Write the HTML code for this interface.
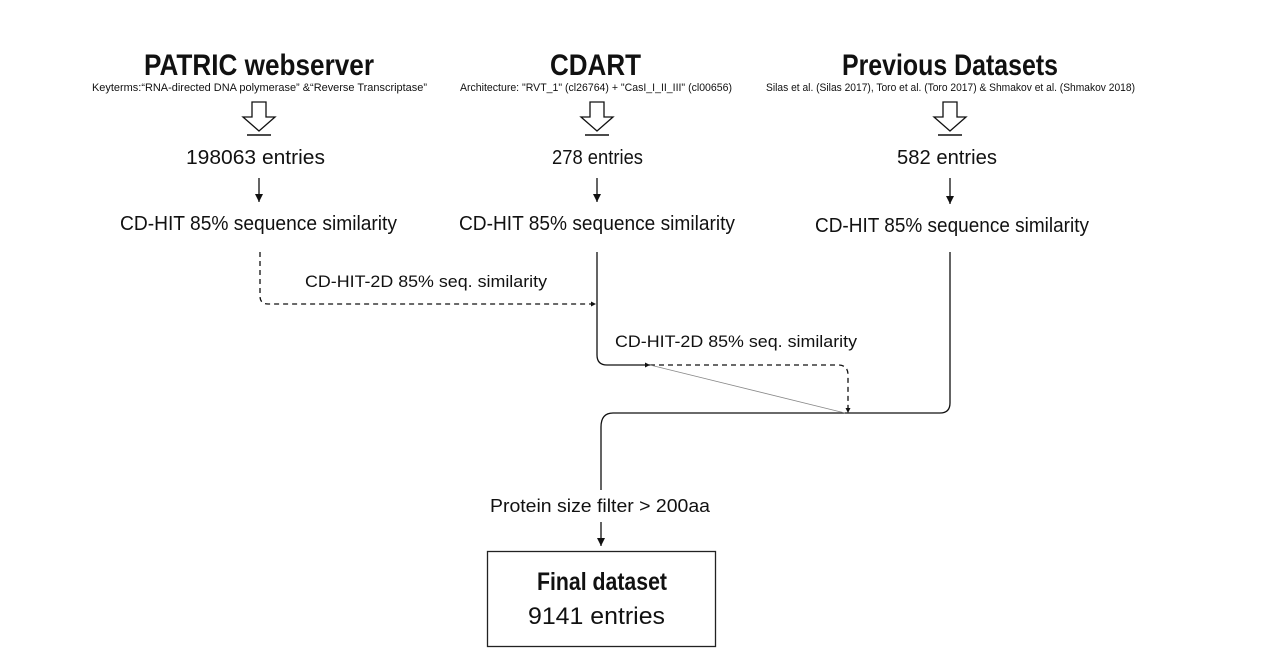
<!DOCTYPE html>
<html><head><meta charset="utf-8"><style>
html,body{margin:0;padding:0;background:#fff;width:1264px;height:671px;overflow:hidden}
svg{display:block}
text{font-family:"Liberation Sans",sans-serif;fill:#111}
.t{font-family:"Liberation Sans Narrow","Liberation Sans",sans-serif;font-weight:bold;font-size:30px}
.s{font-size:11px}
.m{font-size:20px}
</style></head><body>
<svg width="1264" height="671" viewBox="0 0 1264 671">
<defs><marker id="a" markerWidth="10" markerHeight="10" refX="8" refY="4" orient="auto" markerUnits="userSpaceOnUse"><path d="M0,0 L8,4 L0,8 Z" fill="#111"/></marker>
<marker id="b" markerWidth="5" markerHeight="5" refX="5" refY="2.5" orient="auto" markerUnits="userSpaceOnUse"><path d="M0,0 L5,2.5 L0,5Z" fill="#111"/></marker></defs>

<text class="t" x="144" y="75" textLength="230" lengthAdjust="spacingAndGlyphs">PATRIC webserver</text>
<text class="s" x="92" y="91" textLength="335" lengthAdjust="spacingAndGlyphs">Keyterms:“RNA-directed DNA polymerase” &amp;“Reverse Transcriptase”</text>
<text class="t" x="550" y="75" textLength="91" lengthAdjust="spacingAndGlyphs">CDART</text>
<text class="s" x="460" y="91" textLength="272" lengthAdjust="spacingAndGlyphs">Architecture: "RVT_1" (cl26764) + "CasI_I_II_III" (cl00656)</text>
<text class="t" x="842" y="75" textLength="216" lengthAdjust="spacingAndGlyphs">Previous Datasets</text>
<text class="s" x="766" y="91" textLength="369" lengthAdjust="spacingAndGlyphs">Silas et al. (Silas 2017), Toro et al. (Toro 2017) &amp; Shmakov et al. (Shmakov 2018)</text>

<g fill="none" stroke="#111" stroke-width="1.3">
<path d="M252,102 L266,102 L266,117 L275,117 L259,131 L243,117 L252,117 Z"/>
<path d="M590,102 L604,102 L604,117 L613,117 L597,131 L581,117 L590,117 Z"/>
<path d="M943,102 L957,102 L957,117 L966,117 L950,131 L934,117 L943,117 Z"/>
</g>
<g stroke="#111" stroke-width="1.5"><line x1="247" y1="135" x2="271" y2="135"/><line x1="585" y1="135" x2="609" y2="135"/><line x1="938" y1="135" x2="962" y2="135"/></g>

<text class="m" x="186" y="164" textLength="139" lengthAdjust="spacingAndGlyphs">198063 entries</text>
<text class="m" x="552" y="164" textLength="91" lengthAdjust="spacingAndGlyphs">278 entries</text>
<text class="m" x="897" y="164" textLength="100" lengthAdjust="spacingAndGlyphs">582 entries</text>

<g stroke="#111" stroke-width="1.3">
<line x1="259" y1="178" x2="259" y2="202" marker-end="url(#a)"/>
<line x1="597" y1="178" x2="597" y2="202" marker-end="url(#a)"/>
<line x1="950" y1="178" x2="950" y2="204" marker-end="url(#a)"/>
<line x1="601" y1="522" x2="601" y2="546" marker-end="url(#a)"/>
</g>

<text class="m" x="120" y="230" textLength="277" lengthAdjust="spacingAndGlyphs">CD-HIT 85% sequence similarity</text>
<text class="m" x="459" y="230" textLength="276" lengthAdjust="spacingAndGlyphs">CD-HIT 85% sequence similarity</text>
<text class="m" x="815" y="232" textLength="274" lengthAdjust="spacingAndGlyphs">CD-HIT 85% sequence similarity</text>

<text x="305" y="287" font-size="17" textLength="242" lengthAdjust="spacingAndGlyphs">CD-HIT-2D 85% seq. similarity</text>
<text x="615" y="347" font-size="17" textLength="242" lengthAdjust="spacingAndGlyphs">CD-HIT-2D 85% seq. similarity</text>

<g fill="none" stroke="#111" stroke-width="1.3">
<path d="M260,252 L260,296 Q260,304 268,304 L596,304" stroke-dasharray="5,4" marker-end="url(#b)"/>
<path d="M597,252 L597,355 Q597,365 607,365 L650,365" marker-end="url(#b)"/>
<path d="M650,365 L838,365 Q848,365 848,375 L848,413" stroke-dasharray="5,4" marker-end="url(#b)"/>
<path d="M950,252 L950,403 Q950,413 940,413 L613,413 Q601,413 601,427 L601,490"/>
</g>
<line x1="650" y1="365" x2="845" y2="413" stroke="#888" stroke-width="0.8"/>

<text x="490" y="512" font-size="18" textLength="220" lengthAdjust="spacingAndGlyphs">Protein size filter &gt; 200aa</text>
<rect x="487.5" y="551.5" width="228" height="95" fill="none" stroke="#222" stroke-width="1.3"/>
<text class="t" x="537" y="590" style="font-size:25px" textLength="130" lengthAdjust="spacingAndGlyphs">Final dataset</text>
<text x="528" y="624" font-size="24" textLength="137" lengthAdjust="spacingAndGlyphs">9141 entries</text>
</svg>
</body></html>
